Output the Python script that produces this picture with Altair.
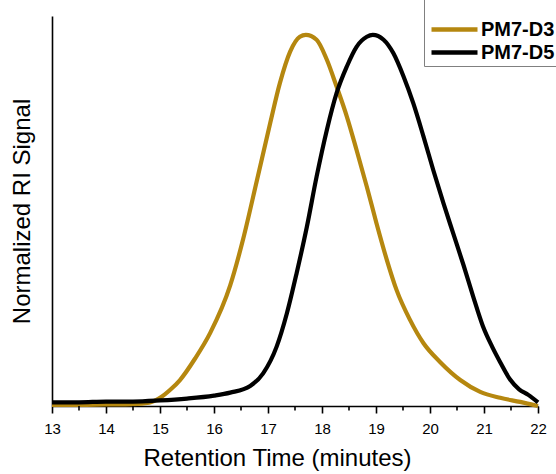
import altair as alt
import pandas as pd

# PM7-D3 (gold)
d3_time = [13.0, 13.5, 14.0, 14.5, 14.8, 15.0, 15.2, 15.37, 15.65, 15.93, 16.30, 16.54,
           16.79, 17.04, 17.22, 17.41, 17.59, 17.70, 17.90, 18.09, 18.27, 18.46, 18.64,
           18.83, 19.01, 19.20, 19.38, 19.63, 19.88, 20.19, 20.56, 20.93, 21.30, 21.67, 22.0]
d3_signal = [0.003, 0.003, 0.004, 0.005, 0.009, 0.022, 0.045, 0.070, 0.128, 0.197, 0.325, 0.450,
             0.605, 0.762, 0.870, 0.955, 0.995, 1.0, 0.987, 0.933, 0.861, 0.780, 0.690,
             0.591, 0.492, 0.394, 0.313, 0.232, 0.169, 0.118, 0.070, 0.038, 0.022, 0.011, 0.0]

# PM7-D5 (black)
d5_time = [13.0, 13.5, 14.0, 14.5, 15.0, 15.5, 16.0, 16.30, 16.67, 16.91, 17.16, 17.35,
           17.53, 17.72, 17.90, 18.09, 18.27, 18.46, 18.64, 18.83, 18.94, 19.14, 19.32,
           19.51, 19.69, 19.88, 20.06, 20.25, 20.43, 20.62, 20.80, 20.98, 21.15, 21.30,
           21.48, 21.65, 21.82, 22.0]
d5_signal = [0.010, 0.010, 0.012, 0.012, 0.015, 0.020, 0.028, 0.036, 0.054, 0.088, 0.160, 0.250,
             0.358, 0.483, 0.618, 0.744, 0.843, 0.915, 0.968, 0.995, 1.0, 0.987, 0.951,
             0.888, 0.816, 0.726, 0.636, 0.546, 0.465, 0.380, 0.295, 0.215, 0.160, 0.118,
             0.072, 0.045, 0.030, 0.010]

series_names = ["PM7-D3", "PM7-D5"]
series_colors = ["#B5870F", "#000000"]
major_ticks = [13, 14, 15, 16, 17, 18, 19, 20, 21, 22]
minor_ticks = [13.5, 14.5, 15.5, 16.5, 17.5, 18.5, 19.5, 20.5, 21.5]

rows = []
for i, (t, v) in enumerate(zip(d3_time, d3_signal)):
    rows.append({"time": t, "signal": v, "sample": "PM7-D3", "order": i})
for i, (t, v) in enumerate(zip(d5_time, d5_signal)):
    rows.append({"time": t, "signal": v, "sample": "PM7-D5", "order": i})
df = pd.DataFrame(rows)
minor_df = pd.DataFrame({"time": minor_ticks})

FONT = "Liberation Sans"

x_scale = alt.Scale(domain=[13, 22], nice=False, zero=False)

lines = alt.Chart(df).mark_line(strokeWidth=4.2, interpolate="monotone").encode(
    x=alt.X("time:Q", scale=x_scale,
            axis=alt.Axis(values=major_ticks, format="d",
                          title="Retention Time (minutes)", titleX=225,
                          labelFlush=False, tickSize=7, grid=False)),
    y=alt.Y("signal:Q",
            scale=alt.Scale(domain=[0, 1.051], nice=False),
            axis=alt.Axis(title="Normalized RI Signal", labels=False, ticks=False, grid=False)),
    color=alt.Color("sample:N",
                    scale=alt.Scale(domain=series_names, range=series_colors),
                    legend=alt.Legend(title=" ", titleFontSize=10, titlePadding=5,
                                      orient="none", legendX=372, legendY=-17,
                                      symbolType="M-2.3,0H2.3", symbolSize=400, symbolStrokeWidth=4.5,
                                      symbolOffset=15,
                                      labelFontSize=20, labelFontWeight="bold", labelFont=FONT,
                                      labelColor="black", labelOffset=14, rowPadding=-1,
                                      strokeColor="#808080", padding=3)),
    order=alt.Order("order:Q"),
)

minor = alt.Chart(minor_df).mark_rule(color="black", strokeWidth=1.6).encode(
    x=alt.X("time:Q", scale=x_scale),
    y=alt.value(390),
    y2=alt.value(394.5),
)

chart = alt.layer(lines, minor).properties(
    width=486, height=390,
    autosize=alt.AutoSizeParams(type="none"),
    padding={"left": 52, "top": 16, "right": 18, "bottom": 68},
).configure_view(
    stroke=None
).configure_axis(
    domainColor="black", domainWidth=1.6, tickColor="black", tickWidth=1.6,
    labelFont=FONT, labelFontSize=15, labelColor="black", labelPadding=8,
    titleFont=FONT, titleFontSize=24, titleFontWeight="normal", titleColor="black",
).configure_axisX(
    titlePadding=10
).configure_axisY(
    titlePadding=18
)

chart.save("out.html", embed_options={"renderer": "svg", "actions": False})
